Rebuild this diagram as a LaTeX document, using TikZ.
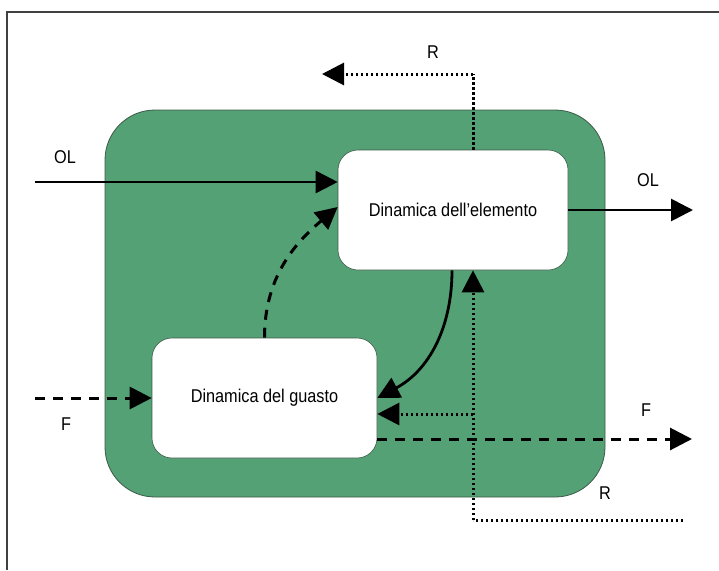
\documentclass[tikz,border=0pt]{standalone}
\usepackage{fontspec}
\setmainfont{Liberation Sans}[FakeStretch=0.88]
\usetikzlibrary{arrows.meta}
\definecolor{boxgreen}{RGB}{84,161,118}
\definecolor{boxedge}{RGB}{60,90,70}
\begin{document}
\begin{tikzpicture}[x=1pt,y=-1pt,
  lbl/.style={font=\fontsize{18.5}{20}\selectfont, inner sep=0pt},
  inner/.style={draw=boxedge, line width=0.6pt, fill=white, rounded corners=20pt,
     minimum width=230pt, minimum height=120pt, font=\fontsize{18.5}{20}\selectfont},
  tip/.style={-{Triangle[length=22pt,width=22pt]}},
  solidline/.style={line width=2.8pt, tip},
  dashline/.style={line width=3pt, dash pattern=on 10pt off 8pt, tip},
  dotline/.style={line width=3pt, dash pattern=on 2.5pt off 2.5pt},
]
\useasboundingbox (0,0) rectangle (719,570);
% frame
\draw[line width=2pt, black!75] (7,570) -- (7,12) -- (719,12);
% green container
\draw[boxedge, line width=0.8pt, fill=boxgreen, rounded corners=50pt] (105,110) rectangle (605,497);
% boxes
\node[inner] (el) at (453,210) {Dinamica dell’elemento};
\node[inner, minimum width=225pt] (gu) at (264.5,398) {Dinamica del guasto};
% coordinates
\coordinate (olin) at (35,182);
\coordinate (olout) at (693,210);
\coordinate (fin) at (35,398);
\coordinate (fout) at (692,439);
\coordinate (r1) at (683,520);
\coordinate (r2) at (473,520);
\coordinate (rtop) at (473,74);
\coordinate (rleft) at (322,74);
\coordinate (rmid) at (473,414);
% OL
\draw[solidline] (olin) -- (olin -| el.west);
\draw[solidline] (el.east) -- (olout);
% dashed curve
\draw[dashline] (gu.north) to[out=90,in=220] ([yshift=3pt]el.west);
% solid curve
\draw[solidline] ([xshift=-1pt]el.south) to[out=-90,in=28] (gu.east);
% R dotted lower
\draw[dotline] (r1) -- (r2);
\draw[dotline, tip] (r2) -- (r2 |- el.south);
\draw[dotline, tip] (rmid) -- (rmid -| gu.east);
% R dotted top
\draw[dotline] (r2 |- el.north) -- (rtop);
\draw[dotline, tip] (rtop) -- (rleft);
% F
\draw[dashline] (fin) -- (gu.west);
\draw[dashline] (fout -| gu.east) -- (fout);
% labels
\node[lbl] (l1) at (65,157) {OL};
\node[lbl] (l2) at (648,180) {OL};
\node[lbl] (l3) at (433,52) {R};
\node[lbl] (l4) at (605,493) {R};
\node[lbl] (l5) at (66,424) {F};
\node[lbl] (l6) at (646,410) {F};
\end{tikzpicture}
\end{document}
